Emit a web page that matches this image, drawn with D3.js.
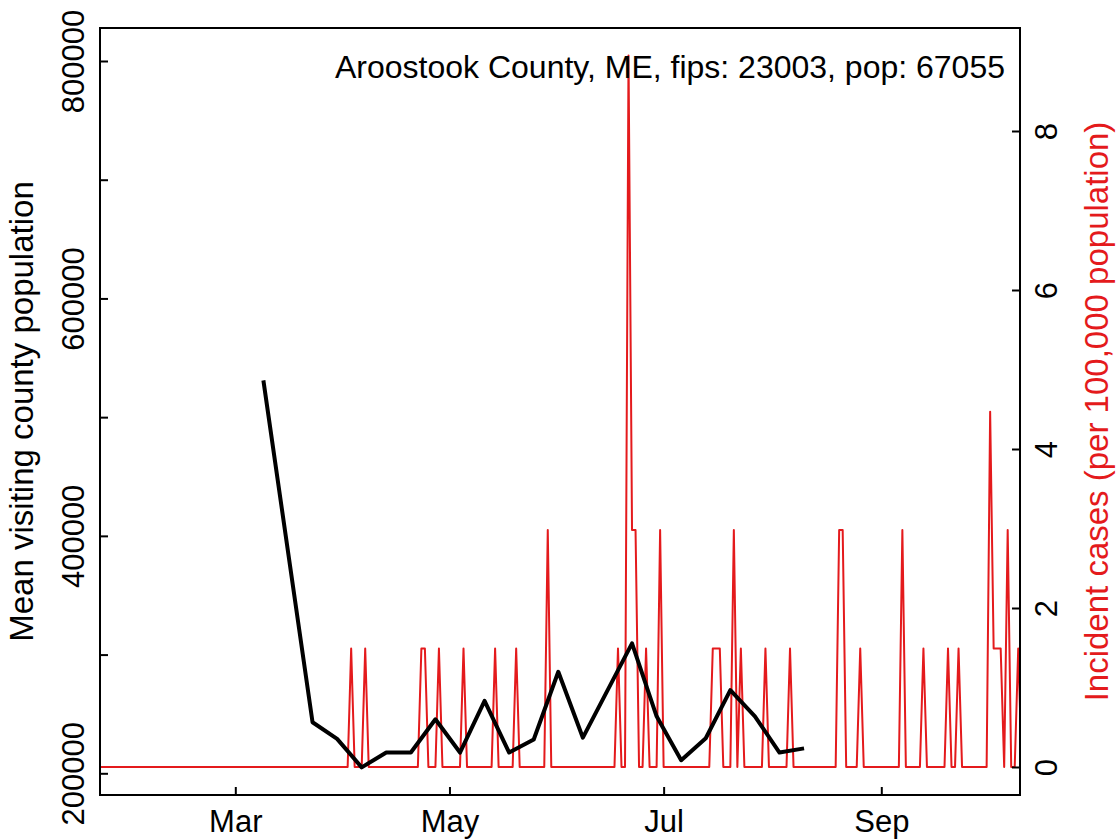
<!DOCTYPE html>
<html>
<head>
<meta charset="utf-8">
<script src="https://cdn.jsdelivr.net/npm/d3@7"></script>
<style>
  body { margin: 0; background: #fff; }
  svg { display: block; font-family: "Liberation Sans", Arial, sans-serif; }
</style>
</head>
<body>
<div id="chart"></div>
<script>
// weekly mean visiting population (black line)
const visitDates = ["2020-03-09", "2020-03-23", "2020-03-30", "2020-04-06", "2020-04-13",
  "2020-04-20", "2020-04-27", "2020-05-04", "2020-05-11", "2020-05-18", "2020-05-25",
  "2020-06-01", "2020-06-08", "2020-06-22", "2020-06-29", "2020-07-06", "2020-07-13",
  "2020-07-20", "2020-07-27", "2020-08-03", "2020-08-10"];
const visitPop = [531000, 243000, 229000, 205000, 217500, 217500, 245500, 217500, 261000,
  217500, 228500, 285500, 230000, 309500, 248000, 211000, 229500, 270000, 248000, 217500, 221000];

// daily incident cases per 100,000 (red line); all other days are 0
const caseDates = ["2020-04-03", "2020-04-07", "2020-04-23", "2020-04-24", "2020-04-28",
  "2020-05-05", "2020-05-14", "2020-05-20", "2020-05-29", "2020-06-18", "2020-06-21",
  "2020-06-22", "2020-06-23", "2020-06-26", "2020-06-30", "2020-07-15", "2020-07-16",
  "2020-07-17", "2020-07-21", "2020-07-23", "2020-07-30", "2020-08-06", "2020-08-20",
  "2020-08-21", "2020-08-26", "2020-09-07", "2020-09-13", "2020-09-20", "2020-09-23",
  "2020-10-02", "2020-10-03", "2020-10-04", "2020-10-05", "2020-10-07", "2020-10-10"];
const caseRates = [1.49, 1.49, 1.49, 1.49, 1.49,
  1.49, 1.49, 1.49, 2.98, 1.49, 8.95,
  2.98, 2.98, 1.49, 2.98, 1.49, 1.49,
  1.49, 2.98, 1.49, 1.49, 1.49, 2.98,
  2.98, 1.49, 2.98, 1.49, 1.49, 1.49,
  4.47, 1.49, 1.49, 1.49, 2.98, 1.49];
const caseStart = "2020-01-20", caseEnd = "2020-10-12";

const leftTicks = [200000, 300000, 400000, 500000, 600000, 700000, 800000];
const leftLabels = [200000, 400000, 600000, 800000];
const rightTicks = [0, 2, 4, 6, 8];
const monthTicks = ["2020-03-01", "2020-05-01", "2020-07-01", "2020-09-01"];

const title = "Aroostook County, ME, fips: 23003, pop: 67055";
const leftTitle = "Mean visiting county population";
const rightTitle = "Incident cases (per 100,000 population)";

const width = 1119, height = 840;
const box = { left: 100, right: 1020, top: 28, bottom: 795 };
const fs = 31;
const red = "#E41A1C";

const parse = d3.utcParse("%Y-%m-%d");

const x = d3.scaleUtc()
  .domain([parse("2020-03-01"), parse("2020-09-01")])
  .range([235.3, 881.3]);
const yL = d3.scaleLinear().domain([200000, 800000]).range([773.3, 61]);
const yR = d3.scaleLinear().domain([0, 8]).range([767, 131]);

const svg = d3.select("#chart").append("svg")
  .attr("width", width).attr("height", height);

svg.append("defs").append("clipPath").attr("id", "plotclip")
  .append("rect")
  .attr("x", box.left).attr("y", box.top)
  .attr("width", box.right - box.left).attr("height", box.bottom - box.top);

// red daily series
const rateByDay = new Map(caseDates.map((d, i) => [d, caseRates[i]]));
const fmt = d3.utcFormat("%Y-%m-%d");
const daily = d3.utcDay.range(parse(caseStart), parse(caseEnd))
  .map(d => ({ date: d, v: rateByDay.get(fmt(d)) || 0 }));

svg.append("path")
  .datum(daily)
  .attr("clip-path", "url(#plotclip)")
  .attr("fill", "none")
  .attr("stroke", red)
  .attr("stroke-width", 2)
  .attr("stroke-linejoin", "round")
  .attr("d", d3.line().x(d => x(d.date)).y(d => yR(d.v)));

// black weekly line
const visits = visitDates.map((d, i) => ({ date: parse(d), v: visitPop[i] }));
svg.append("path")
  .datum(visits)
  .attr("fill", "none")
  .attr("stroke", "#000")
  .attr("stroke-width", 4)
  .attr("stroke-linejoin", "round")
  .attr("d", d3.line().x(d => x(d.date)).y(d => yL(d.v)));

// frame
svg.append("rect")
  .attr("x", box.left).attr("y", box.top)
  .attr("width", box.right - box.left).attr("height", box.bottom - box.top)
  .attr("fill", "none").attr("stroke", "#000").attr("stroke-width", 2);

// axes (ticks point inward)
const gL = svg.append("g").attr("transform", `translate(${box.left},0)`)
  .call(d3.axisLeft(yL).tickValues(leftTicks).tickSizeInner(-8).tickSizeOuter(0)
    .tickFormat(d => leftLabels.includes(d) ? d3.format("d")(d) : ""));
const gB = svg.append("g").attr("transform", `translate(0,${box.bottom})`)
  .call(d3.axisBottom(x).tickValues(monthTicks.map(parse)).tickSizeInner(-8).tickSizeOuter(0)
    .tickFormat(d3.utcFormat("%b")));
const gR = svg.append("g").attr("transform", `translate(${box.right},0)`)
  .call(d3.axisRight(yR).tickValues(rightTicks).tickSizeInner(-8).tickSizeOuter(0));

[gL, gB, gR].forEach(g => {
  g.select(".domain").remove();
  g.selectAll(".tick line").attr("stroke", "#000").attr("stroke-width", 2);
  g.selectAll("text").attr("font-size", fs).attr("fill", "#000")
    .attr("font-family", "Liberation Sans, Arial, sans-serif");
});

gL.selectAll(".tick text")
  .attr("x", null).attr("dy", null)
  .attr("text-anchor", "middle")
  .attr("transform", "translate(-16,0) rotate(-90)");
gR.selectAll(".tick text")
  .attr("x", null).attr("dy", null)
  .attr("text-anchor", "middle")
  .attr("transform", "translate(37,0) rotate(-90)");
gB.selectAll(".tick text")
  .attr("y", 37).attr("dy", null)
  .attr("text-anchor", "middle");

// axis titles
const midY = (box.top + box.bottom) / 2;
svg.append("text")
  .attr("transform", `translate(33,${midY}) rotate(-90)`)
  .attr("text-anchor", "middle")
  .attr("font-size", 33)
  .text(leftTitle);
svg.append("text")
  .attr("transform", `translate(1108,${midY}) rotate(-90)`)
  .attr("text-anchor", "middle")
  .attr("font-size", 33)
  .attr("fill", red)
  .text(rightTitle);

// legend-style title
svg.append("text")
  .attr("x", 1005).attr("y", 78)
  .attr("text-anchor", "end")
  .attr("font-size", 32)
  .text(title);
</script>
</body>
</html>
